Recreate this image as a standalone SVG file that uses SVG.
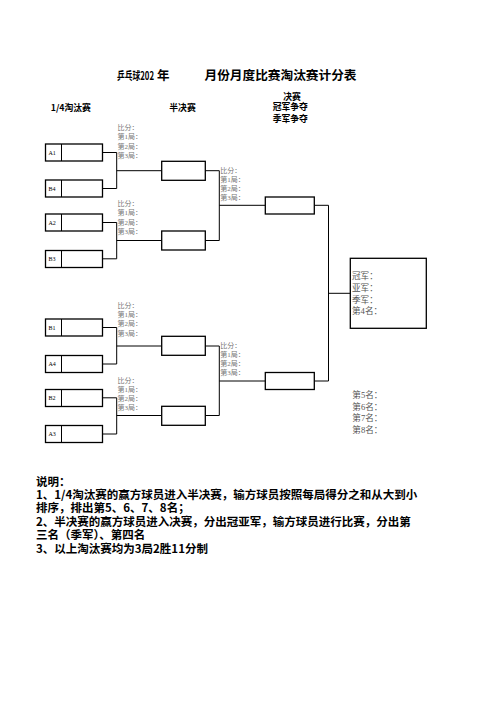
<svg xmlns="http://www.w3.org/2000/svg" width="496" height="702" viewBox="0 0 496 702">
<style>
text{font-family:"Liberation Serif","Noto Sans CJK SC",serif;}
.t{font-family:"Noto Sans CJK SC",sans-serif;font-weight:bold;fill:#000;}
.h{font-family:"Noto Sans CJK SC",sans-serif;font-weight:bold;font-size:8.8px;fill:#000;}
.s{font-family:"Liberation Serif","Noto Sans CJK SC",serif;font-size:7px;fill:#777;}
.r{font-family:"Liberation Serif","Noto Sans CJK SC",serif;font-size:8.6px;fill:#555;}
.lb{font-family:"Liberation Serif",serif;font-size:6px;fill:#000;}
.n{font-family:"Noto Sans CJK SC",sans-serif;font-weight:bold;font-size:11.5px;fill:#000;}
.box{fill:#fff;stroke:#000;stroke-width:1.3;}
.ln{fill:none;stroke:#000;stroke-width:1;}
</style>
<rect width="496" height="702" fill="#fff"/>
<text class="t" font-size="12.5" y="80"><tspan x="117" font-size="11.5" textLength="37" lengthAdjust="spacingAndGlyphs">乒乓球202</tspan><tspan x="157">年</tspan><tspan x="204.5" textLength="152" lengthAdjust="spacingAndGlyphs">月份月度比赛淘汰赛计分表</tspan></text>
<text class="h" x="50.7" y="111">1/4淘汰赛</text>
<text class="h" x="169.3" y="111">半决赛</text>
<text class="h" x="292" y="99.8" text-anchor="middle">决赛</text>
<text class="h" x="290.3" y="110.3" text-anchor="middle">冠军争夺</text>
<text class="h" x="290.3" y="121.5" text-anchor="middle">季军争夺</text>
<g id="connectors">
<path class="ln" d="M102,152.5H116.7V188.5H102M116.7,170.7H161.7"/>
<path class="ln" d="M102,222.5H116.7V258.8H102M116.7,240.5H161.7"/>
<path class="ln" d="M102,327.5H116.7V364H102M116.7,346H161.7"/>
<path class="ln" d="M102,397.8H116.7V434H102M116.7,415.5H161.7"/>
<path class="ln" d="M205.3,170.7H219.3V240.5H205.3M219.3,205.3H265.3"/>
<path class="ln" d="M205.3,346H219.3V415.5H205.3M219.3,381H265.3"/>
<path class="ln" d="M314.3,205.3H328.5V381H314.3M328.5,293.3H350.3"/>
</g>
<g id="A1"><rect class="box" x="45.5" y="144" width="57" height="17"/><line class="ln" x1="61.5" y1="144" x2="61.5" y2="161"/><text class="lb" x="48.5" y="154.5">A1</text></g>
<g id="B4"><rect class="box" x="45.5" y="180" width="57" height="17"/><line class="ln" x1="61.5" y1="180" x2="61.5" y2="197"/><text class="lb" x="48.5" y="190.5">B4</text></g>
<g id="A2"><rect class="box" x="45.5" y="214" width="57" height="17"/><line class="ln" x1="61.5" y1="214" x2="61.5" y2="231"/><text class="lb" x="48.5" y="224.5">A2</text></g>
<g id="B3"><rect class="box" x="45.5" y="250.5" width="57" height="17"/><line class="ln" x1="61.5" y1="250.5" x2="61.5" y2="267.5"/><text class="lb" x="48.5" y="261">B3</text></g>
<g id="B1"><rect class="box" x="45.5" y="319" width="57" height="17"/><line class="ln" x1="61.5" y1="319" x2="61.5" y2="336"/><text class="lb" x="48.5" y="329.5">B1</text></g>
<g id="A4"><rect class="box" x="45.5" y="355.5" width="57" height="17"/><line class="ln" x1="61.5" y1="355.5" x2="61.5" y2="372.5"/><text class="lb" x="48.5" y="366">A4</text></g>
<g id="B2"><rect class="box" x="45.5" y="389.5" width="57" height="17"/><line class="ln" x1="61.5" y1="389.5" x2="61.5" y2="406.5"/><text class="lb" x="48.5" y="400">B2</text></g>
<g id="A3"><rect class="box" x="45.5" y="425.5" width="57" height="17"/><line class="ln" x1="61.5" y1="425.5" x2="61.5" y2="442.5"/><text class="lb" x="48.5" y="436">A3</text></g>
<g id="semi1"><rect class="box" x="161.7" y="161.3" width="43.6" height="19"/></g>
<g id="semi2"><rect class="box" x="161.7" y="231" width="43.6" height="19"/></g>
<g id="semi3"><rect class="box" x="161.7" y="336.3" width="43.6" height="19"/></g>
<g id="semi4"><rect class="box" x="161.7" y="406.3" width="43.6" height="19"/></g>
<g id="final1"><rect class="box" x="265.3" y="197" width="49" height="17"/></g>
<g id="final2"><rect class="box" x="265.3" y="372.5" width="49" height="17"/></g>
<g id="result"><rect class="box" x="350.3" y="258.3" width="76" height="70"/>
<text class="r" x="352" y="279">冠军：</text><text class="r" x="352" y="290.8">亚军：</text><text class="r" x="352" y="302.6">季军：</text><text class="r" x="352" y="314.4">第4名：</text></g>
<g id="ranks">
<text class="r" x="352.3" y="398">第5名：</text><text class="r" x="352.3" y="409.7">第6名：</text><text class="r" x="352.3" y="421.4">第7名：</text><text class="r" x="352.3" y="433.1">第8名：</text>
</g>
<g id="scores">
<text class="s" x="117.5" y="129.5">比分：</text><text class="s" x="117.5" y="139">第1局：</text><text class="s" x="117.5" y="148.5">第2局：</text><text class="s" x="117.5" y="158">第3局：</text>
<text class="s" x="117.5" y="205.8">比分：</text><text class="s" x="117.5" y="215.3">第1局：</text><text class="s" x="117.5" y="224.8">第2局：</text><text class="s" x="117.5" y="234.3">第3局：</text>
<text class="s" x="117.5" y="307.8">比分：</text><text class="s" x="117.5" y="317.1">第1局：</text><text class="s" x="117.5" y="326.4">第2局：</text><text class="s" x="117.5" y="335.7">第3局：</text>
<text class="s" x="117.5" y="382.5">比分：</text><text class="s" x="117.5" y="391.8">第1局：</text><text class="s" x="117.5" y="401.1">第2局：</text><text class="s" x="117.5" y="410.4">第3局：</text>
<text class="s" x="220.3" y="172.5">比分：</text><text class="s" x="220.3" y="181.6">第1局：</text><text class="s" x="220.3" y="190.7">第2局：</text><text class="s" x="220.3" y="199.8">第3局：</text>
<text class="s" x="220.3" y="347.5">比分：</text><text class="s" x="220.3" y="356.6">第1局：</text><text class="s" x="220.3" y="365.7">第2局：</text><text class="s" x="220.3" y="374.8">第3局：</text>
</g>
<g id="notes">
<text class="n" x="36" y="486">说明：</text>
<text class="n" x="36" y="498.5">1、1/4淘汰赛的赢方球员进入半决赛，输方球员按照每局得分之和从大到小</text>
<text class="n" x="36" y="512">排序，排出第5、6、7、8名；</text>
<text class="n" x="36" y="525.5">2、半决赛的赢方球员进入决赛，分出冠亚军，输方球员进行比赛，分出第</text>
<text class="n" x="36" y="539">三名（季军）、第四名</text>
<text class="n" x="36" y="552.5">3、以上淘汰赛均为3局2胜11分制</text>
</g>
</svg>
